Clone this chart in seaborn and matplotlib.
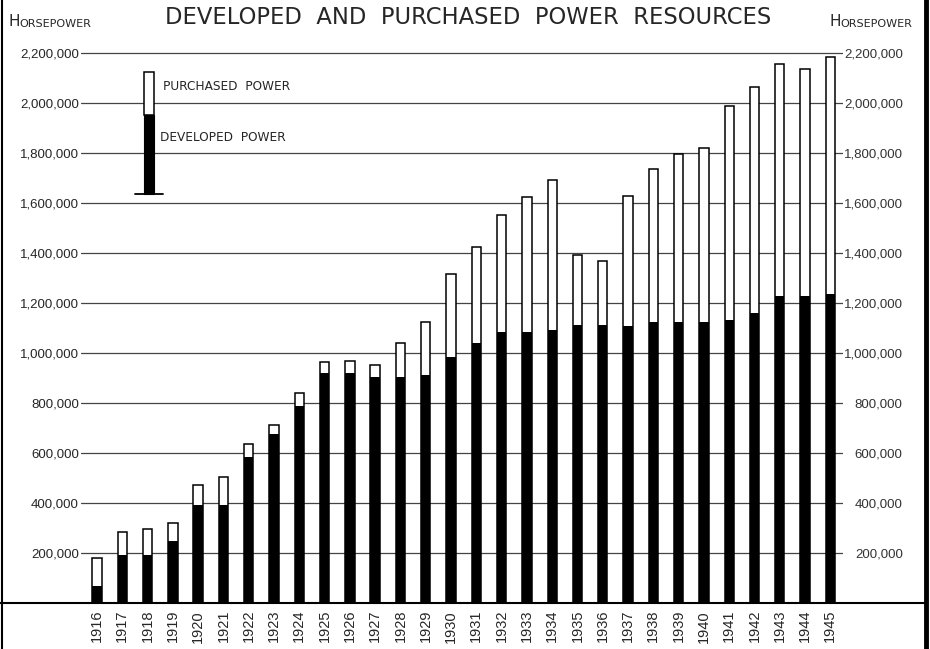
import matplotlib
matplotlib.use("Agg")
import matplotlib.pyplot as plt
import seaborn as sns
from matplotlib.lines import Line2D
from matplotlib.patches import Rectangle

# --- data (horsepower) ---
years = [str(y) for y in range(1916, 1946)]
total_power = [181000, 283000, 295000, 319000, 471000, 503000, 635000, 711000, 839000, 963000,
               968000, 952000, 1039000, 1125000, 1315000, 1423000, 1552000, 1625000, 1692000, 1391000,
               1369000, 1629000, 1736000, 1796000, 1819000, 1989000, 2065000, 2156000, 2135000, 2185000]
developed_power = [68000, 192000, 192000, 248000, 391000, 391000, 583000, 675000, 790000, 921000,
                   921000, 905000, 903000, 912000, 983000, 1039000, 1083000, 1083000, 1092000, 1112000,
                   1112000, 1109000, 1123000, 1123000, 1123000, 1132000, 1159000, 1229000, 1229000, 1236000]
y_ticks = list(range(200000, 2200001, 200000))

sns.set_style("white")
plt.rcParams["font.family"] = ["DejaVu Sans"]

W, H = 930, 649
fig = plt.figure(figsize=(W / 100, H / 100), dpi=100)
ax = fig.add_axes([81 / W, 46 / H, 762 / W, 562.5 / H])

bar_w = 0.37
sns.barplot(x=years, y=total_power, color="white", edgecolor="black", linewidth=1.1,
            width=bar_w, saturation=1, errorbar=None, ax=ax, zorder=3)
sns.barplot(x=years, y=developed_power, color="black", linewidth=0,
            width=bar_w, saturation=1, errorbar=None, ax=ax, zorder=4)

ax.set_xlim(-0.633, 29.5)
ax.set_ylim(0, 2250000)
ax.set_xlabel("")
ax.set_ylabel("")
for s in ax.spines.values():
    s.set_visible(False)

ax.set_yticks(y_ticks)
ax.set_yticklabels([f"{v:,}" for v in y_ticks], fontfamily="Liberation Sans", fontsize=9.5)
ax.tick_params(axis="y", length=0, pad=1.5)
ax.tick_params(axis="x", length=0, pad=5, labelsize=10.5, rotation=90)
for lbl in ax.get_xticklabels():
    lbl.set_fontfamily("Liberation Sans")
ax.yaxis.grid(True, color="#444444", linewidth=0.9)
ax.set_axisbelow(True)

# right-hand scale
ax2 = ax.twinx()
ax2.set_ylim(ax.get_ylim())
ax2.set_yticks(y_ticks)
ax2.set_yticklabels([f"{v:,}" for v in y_ticks], fontfamily="Liberation Sans", fontsize=9.5,
                    color="#333333")
plt.setp(ax2.get_yticklabels(), ha="right")
ax2.tick_params(axis="y", length=0, pad=43)
for s in ax2.spines.values():
    s.set_visible(False)

# legend
lx, lw_ = 2.06, 0.38
ax.add_patch(Rectangle((lx - lw_ / 2, 1952000), lw_, 2122800 - 1952000,
                       facecolor="white", edgecolor="black", linewidth=1.1, zorder=5))
ax.add_patch(Rectangle((lx - lw_ / 2, 1634800), lw_, 1952000 - 1634800,
                       facecolor="black", edgecolor="black", linewidth=0.8, zorder=5))
ax.plot([1.50, 2.61], [1634800, 1634800], color="black", linewidth=1.3, zorder=5)
ax.text(2.60, 2065000, "PURCHASED  POWER", fontsize=8.7, va="center", ha="left")
ax.text(2.49, 1863000, "DEVELOPED  POWER", fontsize=8.7, va="center", ha="left")

# titles
fig.text(468 / W, 1 - 18 / H, "DEVELOPED  AND  PURCHASED  POWER  RESOURCES",
         fontsize=16.3, ha="center", va="center")
h1 = fig.text(8 / W, 1 - 26 / H, "H", fontsize=11, ha="left", va="baseline")
ax.annotate("ORSEPOWER", xy=(1, 0), xycoords=h1, fontsize=8, ha="left", va="bottom")
h2 = fig.text(829 / W, 1 - 26 / H, "H", fontsize=11, ha="left", va="baseline")
ax.annotate("ORSEPOWER", xy=(1, 0), xycoords=h2, fontsize=8, ha="left", va="bottom")

# frame and baseline
base_y = 46 / H
fig.add_artist(Line2D([0, 925 / W], [base_y, base_y], color="black", linewidth=1.5))
fig.add_artist(Line2D([1.5 / W, 1.5 / W], [0, 1], color="black", linewidth=1.5))
fig.add_artist(Line2D([925.5 / W, 925.5 / W], [0, 1], color="black", linewidth=3.5))

fig.savefig("out.png", dpi=100)
